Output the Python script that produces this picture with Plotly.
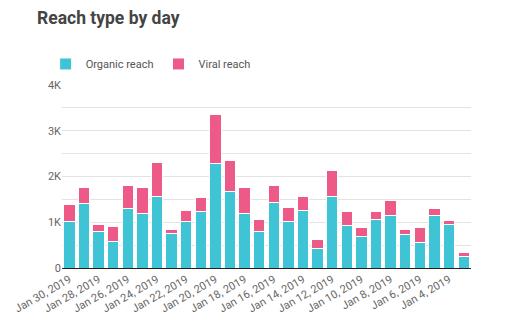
import plotly.graph_objects as go

days = ["Jan 30, 2019", "Jan 29, 2019", "Jan 28, 2019", "Jan 27, 2019", "Jan 26, 2019",
        "Jan 25, 2019", "Jan 24, 2019", "Jan 23, 2019", "Jan 22, 2019", "Jan 21, 2019",
        "Jan 20, 2019", "Jan 19, 2019", "Jan 18, 2019", "Jan 17, 2019", "Jan 16, 2019",
        "Jan 15, 2019", "Jan 14, 2019", "Jan 13, 2019", "Jan 12, 2019", "Jan 11, 2019",
        "Jan 10, 2019", "Jan 9, 2019", "Jan 8, 2019", "Jan 7, 2019", "Jan 6, 2019",
        "Jan 5, 2019", "Jan 4, 2019", "Jan 3, 2019"]
organic = [1018, 1418, 800, 575, 1300, 1185, 1564, 756, 1018, 1236,
           2284, 1673, 1193, 807, 1433, 1011, 1258, 429, 1564, 938,
           698, 1069, 1142, 742, 560, 1156, 960, 255]
total = [1380, 1753, 945, 900, 1810, 1753, 2300, 844, 1251, 1549,
         3360, 2356, 1753, 1062, 1796, 1331, 1571, 625, 2138, 1229,
         887, 1229, 1469, 851, 887, 1295, 1033, 335]
viral = [t - o for t, o in zip(total, organic)]

tick_days = days[::2]
y_ticks = [0, 500, 1000, 1500, 2000, 2500, 3000, 3500, 4000]
y_text = ["0", "", "1K", "", "2K", "", "3K", "", "4K"]

fig = go.Figure()
fig.add_trace(go.Bar(x=days, y=organic, name="Organic reach",
                     marker=dict(color="#3fc4d6", line=dict(color="white", width=1))))
fig.add_trace(go.Bar(x=days, y=viral, name="Viral reach",
                     marker=dict(color="#ee5a88", line=dict(color="white", width=1))))

fig.update_layout(
    barmode="stack",
    bargap=0.22,
    width=512, height=328,
    margin=dict(l=62, r=41, t=85, b=60),
    paper_bgcolor="white", plot_bgcolor="white",
    font=dict(family="Roboto", color="#666666", size=11),
    title=dict(text="<b>Reach type by day</b>", x=37/512, xref="container", xanchor="left",
               y=1 - 18/328, yref="container", yanchor="middle",
               font=dict(family="Roboto", size=17.5, color="#444444")),
    legend=dict(orientation="h", x=-0.04, xanchor="left", y=1.115, yanchor="middle",
                font=dict(family="Roboto", size=11, color="#555555"),
                traceorder="normal", itemwidth=30),
    showlegend=True,
)
fig.update_xaxes(type="category", tickmode="array", tickvals=tick_days, ticktext=tick_days,
                 tickangle=-30, showgrid=False, showline=True, linecolor="#222222",
                 linewidth=1, ticks="", tickfont=dict(size=11, color="#666666"))
fig.update_yaxes(range=[0, 4000], tickmode="array", tickvals=y_ticks, ticktext=y_text,
                 showgrid=True, gridcolor="#e3e3e3", zeroline=False, ticks="",
                 tickfont=dict(size=11, color="#666666"))

fig.write_html("out.html")
